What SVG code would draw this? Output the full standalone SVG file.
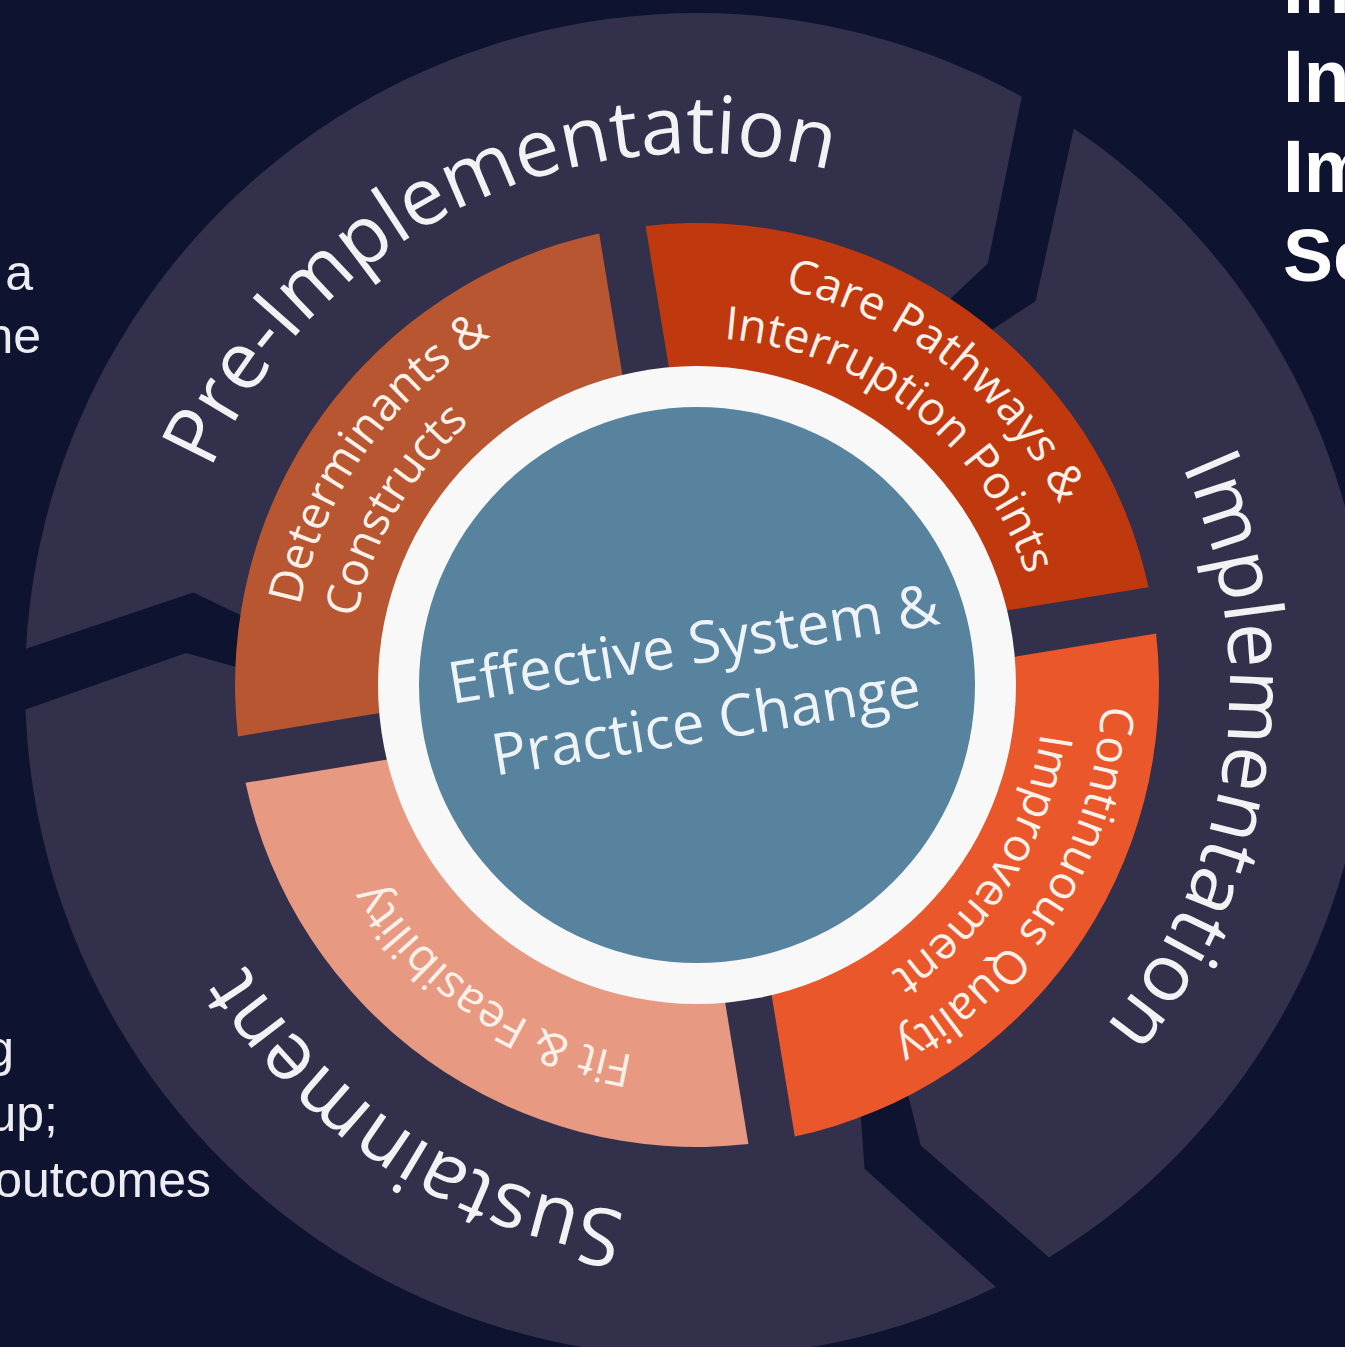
<svg xmlns="http://www.w3.org/2000/svg" width="1345" height="1347" viewBox="0 0 1345 1347">
  <style>
    .bg{fill:#0e1330}
    .phase{fill:#32304b}
    .lbl-phase{font-family:"Open Sans","Noto Sans",sans-serif;font-size:80px;fill:#f2f2f5}
    .lbl-step{font-family:"Open Sans","Noto Sans",sans-serif;font-size:46px;fill:#fdf0e8}
    .lbl-core{font-family:"Open Sans","Noto Sans",sans-serif;font-size:58px;fill:#eef3f7}
    .slide{font-family:"Liberation Sans",Arial,sans-serif;fill:#ececf2}
    .slide-bold{font-family:"Liberation Sans",Arial,sans-serif;font-weight:bold;font-size:75px;fill:#ffffff}
  </style>
  <defs>
    <!-- clockwise baselines for the curved labels (centre 697,685) -->
    <path id="arc-pre" d="M 199.7 873.9 A 532 532 0 0 1 1154.0 412.6"/>
    <path id="arc-impl" d="M 814.9 166.2 A 532 532 0 0 1 671.0 1216.4"/>
    <path id="arc-sust" d="M 1116.2 1012.5 A 532 532 0 0 1 227.3 435.2"/>
    <path id="arc-det-1" d="M 409.0 969.7 A 405 405 0 0 1 870.4 319.0"/>
    <path id="arc-det-2" d="M 473.6 950.5 A 347 347 0 0 1 816.3 359.1"/>
    <path id="arc-care-1" d="M 426.0 384.0 A 405 405 0 0 1 1054.6 875.1"/>
    <path id="arc-care-2" d="M 464.8 427.1 A 347 347 0 0 1 1003.4 847.9"/>
    <path id="arc-cont-1" d="M 968.0 384.0 A 405 405 0 0 1 545.3 1060.5"/>
    <path id="arc-cont-2" d="M 929.2 427.1 A 347 347 0 0 1 567.0 1006.7"/>
    <path id="arc-fit" d="M 967.0 946.7 A 376 376 0 0 1 353.8 531.5"/>
  </defs>

  <rect class="bg" x="0" y="0" width="1345" height="1347"/>

  <!-- slide text around the wheel -->
  <g id="slide-text-left" class="slide" font-size="50" text-anchor="end">
    <text x="33" y="290">a</text>
    <text x="41" y="353">ne</text>
    <text x="14" y="1066">g</text>
    <text x="58" y="1131">up;</text>
    <text x="211" y="1197">outcomes</text>
  </g>
  <g id="slide-text-right" class="slide-bold">
    <text x="1283" y="13">In</text>
    <text x="1283" y="102">In</text>
    <text x="1283" y="192">Im</text>
    <text x="1283" y="281">Sc</text>
  </g>

  <!-- outer phase ring: three chevron segments -->
  <g id="phase-pre-implementation">
    <path class="phase" d="M 26.0 648.7 A 672 672 0 0 1 1021.8 96.7 L 987.7 263.6 L 866.1 378.6 A 350 350 0 0 0 347.5 666.1 L 193.4 592.6 Z"/>
    <text class="lbl-phase"><textPath href="#arc-pre" startOffset="50%" text-anchor="middle">Pre-Implementation</textPath></text>
  </g>
  <g id="phase-implementation">
    <path class="phase" d="M 1073.8 128.5 A 672 672 0 0 1 1049.1 1257.4 L 920.7 1145.6 L 880.4 983.1 A 350 350 0 0 0 893.2 395.2 L 1035.6 300.9 Z"/>
    <text class="lbl-phase"><textPath href="#arc-impl" startOffset="50%" text-anchor="middle">Implementation</textPath></text>
  </g>
  <g id="phase-sustainment">
    <path class="phase" d="M 995.8 1286.9 A 672 672 0 0 1 25.5 709.6 L 186.0 652.9 L 347.2 697.8 A 350 350 0 0 0 852.6 998.5 L 864.5 1168.8 Z"/>
    <text class="lbl-phase"><textPath href="#arc-sust" startOffset="50%" text-anchor="middle">Sustainment</textPath></text>
  </g>
  <circle id="ring-base" class="phase" cx="697" cy="685" r="460"/>

  <!-- inner step ring -->
  <g id="step-determinants">
    <path fill="#b75630" d="M 237.9 736.4 A 462 462 0 0 1 599.2 233.5 L 625.5 393.7 A 300 300 0 0 0 398.1 710.1 Z"/>
    <text class="lbl-step"><textPath href="#arc-det-1" startOffset="50%" text-anchor="middle">Determinants &amp;</textPath></text>
    <text class="lbl-step"><textPath href="#arc-det-2" startOffset="50%" text-anchor="middle">Constructs</textPath></text>
  </g>
  <g id="step-care-pathways">
    <path fill="#c0390e" d="M 645.6 225.9 A 462 462 0 0 1 1148.5 587.2 L 988.3 613.5 A 300 300 0 0 0 671.9 386.1 Z"/>
    <text class="lbl-step"><textPath href="#arc-care-1" startOffset="50%" text-anchor="middle">Care Pathways &amp;</textPath></text>
    <text class="lbl-step"><textPath href="#arc-care-2" startOffset="50%" text-anchor="middle">Interruption Points</textPath></text>
  </g>
  <g id="step-quality-improvement">
    <path fill="#e9572a" d="M 1156.1 633.6 A 462 462 0 0 1 794.8 1136.5 L 768.5 976.3 A 300 300 0 0 0 995.9 659.9 Z"/>
    <text class="lbl-step"><textPath href="#arc-cont-1" startOffset="50%" text-anchor="middle">Continuous Quality</textPath></text>
    <text class="lbl-step"><textPath href="#arc-cont-2" startOffset="50%" text-anchor="middle">Improvement</textPath></text>
  </g>
  <g id="step-fit-feasibility">
    <path fill="#e89982" d="M 748.4 1144.1 A 462 462 0 0 1 245.5 782.8 L 405.7 756.5 A 300 300 0 0 0 722.1 983.9 Z"/>
    <text class="lbl-step"><textPath href="#arc-fit" startOffset="50%" text-anchor="middle">Fit &amp; Feasibility</textPath></text>
  </g>

  <!-- centre -->
  <g id="core">
    <circle cx="697" cy="685" r="319" fill="#f8f8f8"/>
    <circle cx="697" cy="685" r="278" fill="#57839e"/>
    <g class="lbl-core" text-anchor="middle" transform="rotate(-9.3 697 685)">
      <text x="700" y="664">Effective System &amp;</text>
      <text x="700" y="742">Practice Change</text>
    </g>
  </g>
</svg>
